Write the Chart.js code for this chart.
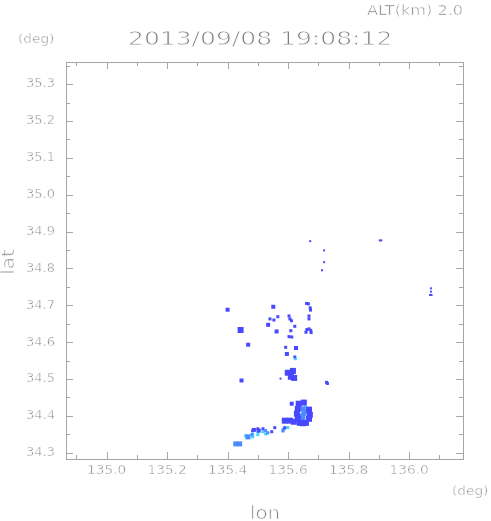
<!DOCTYPE html>
<html>
<head>
<meta charset="utf-8">
<script src="https://cdn.jsdelivr.net/npm/chart.js@4/dist/chart.umd.min.js"></script>
<style>
    html, body { margin: 0; padding: 0; background: #fff; }
    #wrap { width: 491px; height: 521px; position: relative; }
</style>
</head>
<body>
<div id="wrap"><canvas id="radarChart"></canvas></div>
<script>
// axis ticks
const xTickLabels = ['135.0', '135.2', '135.4', '135.6', '135.8', '136.0'];
const xMinorTicks = [134.9, 135.1, 135.3, 135.5, 135.7, 135.9, 136.1];
const yTickLabels = ['34.3', '34.4', '34.5', '34.6', '34.7', '34.8', '34.9', '35.0', '35.1', '35.2', '35.3'];
const yMinorTicks = [34.35, 34.45, 34.55, 34.65, 34.75, 34.85, 34.95, 35.05, 35.15, 35.25, 35.35];

const titleText = '2013/09/08 19:08:12';
const altText = 'ALT(km) 2.0';

// echo cells [lon, lat]
const blueLarge = [
    [135.635, 34.433], [135.652, 34.436], [135.632, 34.419], [135.669, 34.417],
    [135.629, 34.406], [135.672, 34.403], [135.632, 34.392], [135.669, 34.392],
    [135.639, 34.381], [135.659, 34.381], [135.649, 34.380],
    [135.589, 34.387], [135.606, 34.387], [135.619, 34.384],
    [135.443, 34.633],
    [135.599, 34.517], [135.616, 34.522], [135.609, 34.506], [135.620, 34.503],
];
const blueMedium = [
    [135.612, 34.433], [135.400, 34.688], [135.551, 34.696], [135.534, 34.647],
    [135.562, 34.629], [135.468, 34.593], [135.446, 34.496], [135.626, 34.584],
    [135.596, 34.568], [135.614, 34.519], [135.487, 34.362], [135.503, 34.360],
];
const blueSmall = [
    [135.661, 34.705], [135.667, 34.704], [135.673, 34.693], [135.674, 34.687],
    [135.603, 34.671], [135.606, 34.663], [135.611, 34.658], [135.669, 34.671],
    [135.669, 34.663], [135.622, 34.643], [135.659, 34.627], [135.662, 34.634],
    [135.669, 34.636], [135.675, 34.632], [135.676, 34.626], [135.609, 34.631],
    [135.603, 34.615], [135.612, 34.614], [135.592, 34.586], [135.540, 34.663],
    [135.553, 34.660], [135.566, 34.669], [135.727, 34.491], [135.730, 34.488],
    [135.483, 34.360], [135.500, 34.365], [135.517, 34.365], [135.546, 34.357],
    [135.556, 34.368], [135.589, 34.368],
];
const blueTiny = [
    [135.673, 34.874], [135.719, 34.849], [135.719, 34.817], [135.712, 34.795],
    [135.903, 34.876], [135.908, 34.876], [136.072, 34.746], [136.072, 34.737],
    [136.069, 34.728], [136.074, 34.728], [135.575, 34.501], [135.622, 34.560],
];
const lightLarge = [
    [135.649, 34.419], [135.652, 34.406], [135.649, 34.394], [135.642, 34.400],
    [135.657, 34.412], [135.427, 34.324], [135.440, 34.324], [135.467, 34.343],
];
const lightSmall = [
    [135.622, 34.560], [135.480, 34.349], [135.583, 34.359], [135.586, 34.364],
    [135.526, 34.360], [135.533, 34.354],
];
const cyanSmall = [
    [135.662, 34.414], [135.642, 34.389], [135.657, 34.424], [135.624, 34.555],
    [135.483, 34.351], [135.483, 34.343], [135.500, 34.357], [135.500, 34.349],
    [135.517, 34.357], [135.526, 34.351], [135.460, 34.346], [135.470, 34.341],
    [135.583, 34.362], [135.599, 34.368], [135.446, 34.630],
];

const textColor = '#7e7e7e';
const frameColor = '#a6a6a6';

const toPoints = (list) => list.map(([x, y]) => ({ x, y }));

// thin-stroke look: fill, then erode the glyphs with a white outline
const drawText = (ctx, str, x, y, size, align, stretch) => {
    ctx.save();
    ctx.font = `${size}px "DejaVu Sans"`;
    ctx.fillStyle = textColor;
    ctx.textBaseline = 'middle';
    const w = ctx.measureText(str).width * stretch;
    let left = x;
    if (align === 'center') left = x - w / 2;
    if (align === 'right') left = x - w;
    ctx.translate(left, y);
    ctx.scale(stretch, 1);
    ctx.textAlign = 'left';
    ctx.fillText(str, 0, 0);
    ctx.strokeStyle = '#ffffff';
    ctx.lineWidth = size * 0.04;
    ctx.strokeText(str, 0, 0);
    ctx.restore();
};

const framePlugin = {
    id: 'framePlugin',
    afterDraw(chart) {
        const { ctx, chartArea: area, scales } = chart;
        const { x: xs, y: ys } = scales;
        ctx.save();
        ctx.strokeStyle = frameColor;
        ctx.lineWidth = 1;
        ctx.strokeRect(Math.round(area.left) + 0.5, Math.round(area.top) + 0.5,
            Math.round(area.right - area.left), Math.round(area.bottom - area.top));

        const tick = (px, len, vertical) => {
            const p = Math.round(px) + 0.5;
            ctx.beginPath();
            if (vertical) {
                ctx.moveTo(p, area.bottom); ctx.lineTo(p, area.bottom - len);
                ctx.moveTo(p, area.top); ctx.lineTo(p, area.top + len);
            } else {
                ctx.moveTo(area.left, p); ctx.lineTo(area.left + len, p);
                ctx.moveTo(area.right, p); ctx.lineTo(area.right - len, p);
            }
            ctx.stroke();
        };
        xTickLabels.forEach((label) => tick(xs.getPixelForValue(parseFloat(label)), 7, true));
        xMinorTicks.forEach((v) => tick(xs.getPixelForValue(v), 4, true));
        yTickLabels.forEach((label) => tick(ys.getPixelForValue(parseFloat(label)), 7, false));
        yMinorTicks.forEach((v) => tick(ys.getPixelForValue(v), 4, false));
        ctx.restore();

        xTickLabels.forEach((label) => {
            drawText(ctx, label, xs.getPixelForValue(parseFloat(label)), area.bottom + 12, 13, 'center', 1.05);
        });
        yTickLabels.forEach((label) => {
            drawText(ctx, label, area.left - 11, ys.getPixelForValue(parseFloat(label)), 13, 'right', 1.0);
        });

        drawText(ctx, altText, 463, 11, 14, 'right', 1.15);
        drawText(ctx, titleText, 128, 40, 20, 'left', 1.25);
        drawText(ctx, '(deg)', 18, 40, 13, 'left', 1.05);
        drawText(ctx, '(deg)', 452, 492, 13, 'left', 1.05);
        drawText(ctx, 'lon', 265, 514, 18, 'center', 1.1);

        ctx.save();
        ctx.translate(9, 262);
        ctx.rotate(-Math.PI / 2);
        drawText(ctx, 'lat', 0, 0, 18, 'center', 1.1);
        ctx.restore();
    },
};

const cellSet = (list, color, side) => ({
    data: toPoints(list),
    pointStyle: 'rect',
    pointRadius: side / Math.SQRT2,
    pointBorderWidth: 0,
    backgroundColor: color,
    pointBackgroundColor: color,
    showLine: false,
});

document.addEventListener('DOMContentLoaded', () => {
    const ctx = document.getElementById('radarChart');
    new Chart(ctx, {
        type: 'scatter',
        data: {
            datasets: [
                cellSet(blueLarge, '#4848ff', 6),
                cellSet(blueMedium, '#4848ff', 4),
                cellSet(blueSmall, '#4848ff', 3),
                cellSet(blueTiny, '#4848ff', 2),
                cellSet(lightLarge, '#4a8cff', 5),
                cellSet(lightSmall, '#4a8cff', 3),
                cellSet(cyanSmall, '#40d4ff', 3),
            ],
        },
        options: {
            responsive: true,
            maintainAspectRatio: false,
            animation: false,
            layout: {
                padding: { left: 66, right: 28, top: 62, bottom: 62 },
            },
            scales: {
                x: { type: 'linear', min: 134.866, max: 136.178, display: false },
                y: { type: 'linear', min: 34.283, max: 35.36, display: false },
            },
            plugins: {
                legend: { display: false },
                tooltip: { enabled: false },
            },
        },
        plugins: [framePlugin],
    });
});
</script>
</body>
</html>
